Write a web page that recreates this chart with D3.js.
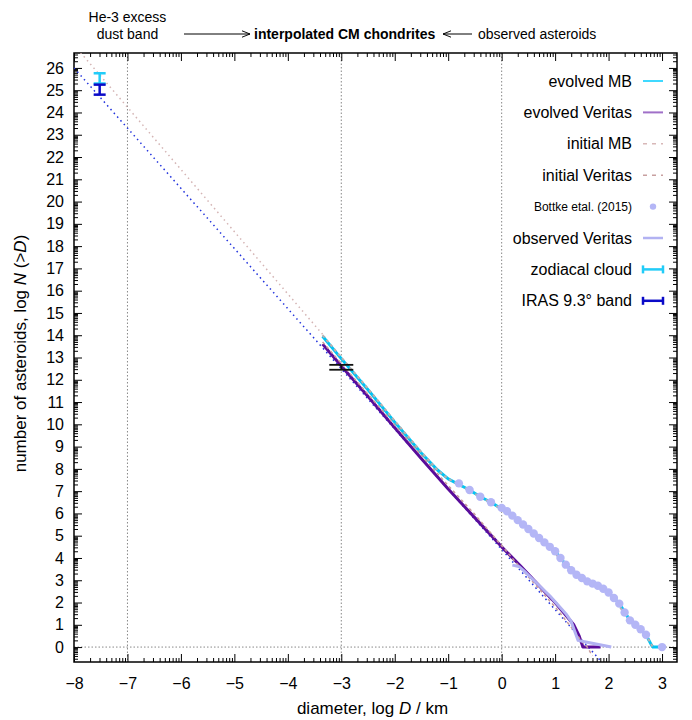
<!DOCTYPE html>
<html>
<head>
<meta charset="utf-8">
<script src="https://cdn.jsdelivr.net/npm/d3@7"></script>
<style>
  body { margin: 0; background: #ffffff; }
  svg { font-family: "Liberation Sans", Arial, sans-serif; }
</style>
</head>
<body>
<div id="chart"></div>
<script>
// ---- data (log D / km, log N(>D)) ----
var evolvedMB = [[-3.35, 13.95], [-3.0, 12.95], [-2.5, 11.55], [-2.0, 10.1], [-1.5, 8.7], [-1.2, 7.95],
                 [-1.0, 7.55], [-0.8, 7.3], [-0.6, 7.05], [-0.4, 6.75], [-0.2, 6.5], [0.0, 6.2], [0.2, 5.9],
                 [0.4, 5.5], [0.6, 5.1], [0.8, 4.7], [1.0, 4.3], [1.2, 3.7], [1.4, 3.25], [1.6, 2.95],
                 [1.8, 2.75], [2.0, 2.45], [2.2, 1.95], [2.4, 1.2], [2.6, 0.8], [2.7, 0.55], [2.8, 0.1],
                 [2.83, 0.0], [3.03, 0.0]];
var evolvedVeritas = [[-3.35, 13.6], [-3.0, 12.62], [-2.5, 11.25], [-2.0, 9.85], [-1.5, 8.45], [-1.0, 7.1],
                      [-0.5, 5.8], [0.0, 4.5], [0.35, 3.65], [0.8, 2.5], [1.0, 2.0], [1.35, 1.0], [1.45, 0.5],
                      [1.52, 0.0], [1.85, 0.0]];
var initialMB = [[-3.35, 14.0], [-3.0, 13.0], [-2.5, 11.6], [-2.0, 10.15], [-1.5, 8.75], [-1.2, 7.95],
                 [-1.0, 7.55], [-0.8, 7.3], [-0.4, 6.75], [0.0, 6.2], [0.4, 5.5], [0.8, 4.7], [1.2, 3.7],
                 [1.6, 2.95], [2.0, 2.45], [2.4, 1.2], [2.7, 0.55], [2.85, -0.1]];
var initialVeritas = [[-3.35, 13.7], [-2.5, 11.35], [-1.5, 8.6], [-1.0, 7.25], [-0.5, 5.95], [0.0, 4.55],
                      [0.5, 3.15], [1.0, 1.8], [1.3, 0.9], [1.5, 0.25], [1.6, 0.0], [1.7, -0.4]];
var bottke = [[-0.8, 7.35], [-0.6, 7.05], [-0.4, 6.75], [-0.2, 6.5], [0.0, 6.25], [0.1, 6.1], [0.2, 5.9],
              [0.3, 5.7], [0.4, 5.5], [0.5, 5.3], [0.6, 5.1], [0.7, 4.9], [0.8, 4.7], [0.9, 4.5], [1.0, 4.3],
              [1.1, 4.0], [1.2, 3.7], [1.3, 3.45], [1.4, 3.25], [1.5, 3.1], [1.6, 2.95], [1.7, 2.85],
              [1.8, 2.75], [1.9, 2.62], [2.0, 2.45], [2.1, 2.2], [2.2, 1.95], [2.3, 1.55], [2.4, 1.2],
              [2.5, 1.0], [2.6, 0.8], [2.7, 0.55], [3.0, 0.0]];
var observedVeritas = [[0.2, 3.68], [0.32, 3.62], [0.45, 3.35], [0.6, 3.0], [0.75, 2.65], [0.9, 2.3],
                       [1.05, 1.9], [1.2, 1.5], [1.3, 1.15], [1.43, 0.3], [1.6, 0.22], [2.05, 0.0]];
// power-law extrapolations towards dust sizes
var extrapMB = [[-8.0, 27.03], [-3.3, 13.9]];
var extrapVeritas = [[-8.0, 26.0], [1.87, -0.67]];
// error bars: [x, ylow, yhigh]
var zodiacalCloud = [-7.52, 25.3, 25.76];
var irasBand = [-7.52, 24.8, 25.25];
var cmChondrites = [-3.0, 12.45, 12.67];

var xTicks = [-8, -7, -6, -5, -4, -3, -2, -1, 0, 1, 2, 3];
var yTicks = [0, 1, 2, 3, 4, 5, 6, 7, 8, 9, 10, 11, 12, 13, 14, 15, 16, 17, 18, 19, 20, 21, 22, 23, 24, 25, 26];
var gridX = [-7, -3, 0];
var gridY = [0];

var legendNames = ["evolved MB", "evolved Veritas", "initial MB", "initial Veritas",
                   "Bottke etal. (2015)", "observed Veritas", "zodiacal cloud", "IRAS 9.3\u00b0 band"];

// ---- layout ----
var width = 692, height = 720;
var plotLeft = 74, plotRight = 677, plotTop = 53, plotBottom = 662;

var x = d3.scaleLinear().domain([-8, 3.28]).range([plotLeft, plotRight]);
var y = d3.scaleLinear().domain([-0.67, 26.67]).range([plotBottom, plotTop]);

var svg = d3.select("#chart").append("svg")
            .attr("width", width)
            .attr("height", height);

svg.append("clipPath").attr("id", "plotclip")
   .append("rect")
   .attr("x", plotLeft).attr("y", plotTop)
   .attr("width", plotRight - plotLeft).attr("height", plotBottom - plotTop);

// log-style minor ticks inside every unit
var minorTicks = function(lo, hi) {
    var out = [];
    for (var k = lo; k < hi; k++)
        for (var m = 2; m <= 9; m++) out.push(k + Math.log10(m));
    return out;
};
var xMinor = minorTicks(-8, 4).filter(function(v) { return v < 3.28; });
var yMinor = minorTicks(-1, 27).filter(function(v) { return v > -0.67 && v < 26.67; });

// grid lines (dotted)
var grid = svg.append("g");
gridX.forEach(function(v) {
    grid.append("line")
        .attr("x1", x(v)).attr("x2", x(v))
        .attr("y1", plotTop).attr("y2", plotBottom)
        .attr("stroke", "#888").attr("stroke-width", 1)
        .attr("stroke-dasharray", "1.5,2");
});
gridY.forEach(function(v) {
    grid.append("line")
        .attr("x1", plotLeft).attr("x2", plotRight)
        .attr("y1", y(v)).attr("y2", y(v))
        .attr("stroke", "#888").attr("stroke-width", 1)
        .attr("stroke-dasharray", "1.5,2");
});

// axes (ticks pointing inwards, mirrored on top / right)
var drawAxis = function(axis, tx, ty, labels) {
    var g = svg.append("g").attr("transform", "translate(" + tx + "," + ty + ")").call(axis);
    g.select(".domain").remove();
    g.selectAll("line").attr("stroke", "#000").attr("stroke-width", 1);
    g.selectAll("text").attr("font-size", 16).attr("fill", "#000")
     .attr("font-family", "Liberation Sans, Arial, sans-serif");
    if (!labels) g.selectAll("text").remove();
    return g;
};
drawAxis(d3.axisBottom(x).tickValues(xTicks).tickSize(-8).tickPadding(16).tickFormat(d3.format("d")), 0, plotBottom, true);
drawAxis(d3.axisBottom(x).tickValues(xMinor).tickSize(-4), 0, plotBottom, false);
drawAxis(d3.axisTop(x).tickValues(xTicks).tickSize(-8), 0, plotTop, false);
drawAxis(d3.axisTop(x).tickValues(xMinor).tickSize(-4), 0, plotTop, false);
drawAxis(d3.axisLeft(y).tickValues(yTicks).tickSize(-8).tickPadding(10).tickFormat(d3.format("d")), plotLeft, 0, true);
drawAxis(d3.axisLeft(y).tickValues(yMinor).tickSize(-4), plotLeft, 0, false);
drawAxis(d3.axisRight(y).tickValues(yTicks).tickSize(-8), plotRight, 0, false);
drawAxis(d3.axisRight(y).tickValues(yMinor).tickSize(-4), plotRight, 0, false);

// frame
svg.append("rect")
   .attr("x", plotLeft).attr("y", plotTop)
   .attr("width", plotRight - plotLeft).attr("height", plotBottom - plotTop)
   .attr("fill", "none").attr("stroke", "#000").attr("stroke-width", 1.5);

// ---- curves ----
var line = d3.line().x(function(d) { return x(d[0]); }).y(function(d) { return y(d[1]); });
var plot = svg.append("g").attr("clip-path", "url(#plotclip)");

var drawCurve = function(data, color, w, dash) {
    var p = plot.append("path").datum(data)
                .attr("d", line)
                .attr("fill", "none")
                .attr("stroke", color)
                .attr("stroke-width", w)
                .attr("stroke-linejoin", "round");
    if (dash) p.attr("stroke-dasharray", dash);
    return p;
};

drawCurve(extrapMB, "#d4b4b4", 1.5, "1.5,3.5");
drawCurve(extrapVeritas, "#2233dd", 1.5, "1.5,3.5");
drawCurve(evolvedMB, "#00c4f4", 3);
drawCurve(evolvedVeritas, "#5a0c9a", 3);
drawCurve(initialMB, "#b8b0b0", 2, "3,3");
drawCurve(initialVeritas, "#c89a9a", 1.5, "3,3");

plot.selectAll("circle.bottke").data(bottke).enter().append("circle")
    .attr("class", "bottke")
    .attr("cx", function(d) { return x(d[0]); })
    .attr("cy", function(d) { return y(d[1]); })
    .attr("r", 4.2)
    .attr("fill", "#b4b6f6");

drawCurve(observedVeritas, "#b2b2f2", 3);

// error bars
var drawErrorBar = function(bar, color, w, capHalf) {
    var g = plot.append("g").attr("stroke", color).attr("stroke-width", w);
    var cx = x(bar[0]);
    g.append("line").attr("x1", cx).attr("x2", cx).attr("y1", y(bar[1])).attr("y2", y(bar[2]));
    g.append("line").attr("x1", cx - capHalf).attr("x2", cx + capHalf).attr("y1", y(bar[1])).attr("y2", y(bar[1]));
    g.append("line").attr("x1", cx - capHalf).attr("x2", cx + capHalf).attr("y1", y(bar[2])).attr("y2", y(bar[2]));
};
drawErrorBar(zodiacalCloud, "#22ccf8", 2.5, 6);
drawErrorBar(irasBand, "#0a0ac8", 2.5, 6);
drawErrorBar(cmChondrites, "#111", 1.8, 12);

// ---- legend ----
var legendTextX = 632, legendX1 = 643, legendX2 = 663, legendY0 = 81, legendDy = 31.4;
var legend = svg.append("g");
legendNames.forEach(function(name, i) {
    var ly = legendY0 + i * legendDy;
    legend.append("text")
          .attr("x", legendTextX).attr("y", ly)
          .attr("dy", "0.35em")
          .attr("text-anchor", "end")
          .attr("font-size", i === 4 ? 12 : 16)
          .text(name);
});
var sample = function(i, color, w, dash) {
    var ly = legendY0 + i * legendDy;
    var l = legend.append("line")
                  .attr("x1", legendX1).attr("x2", legendX2)
                  .attr("y1", ly).attr("y2", ly)
                  .attr("stroke", color).attr("stroke-width", w);
    if (dash) l.attr("stroke-dasharray", dash);
};
sample(0, "#00ccff", 1.5);
sample(1, "#a070c8", 2);
sample(2, "#d8b8b8", 1.5, "4,5");
sample(3, "#c8a0a0", 1.5, "4,5");
legend.append("circle").attr("cx", (legendX1 + legendX2) / 2).attr("cy", legendY0 + 4 * legendDy)
      .attr("r", 3.2).attr("fill", "#b4b6f6");
sample(5, "#b2b2f2", 2.5);
var sampleBar = function(i, color) {
    var ly = legendY0 + i * legendDy;
    var g = legend.append("g").attr("stroke", color).attr("stroke-width", 2.5);
    g.append("line").attr("x1", legendX1).attr("x2", legendX2).attr("y1", ly).attr("y2", ly);
    g.append("line").attr("x1", legendX1).attr("x2", legendX1).attr("y1", ly - 4).attr("y2", ly + 4);
    g.append("line").attr("x1", legendX2).attr("x2", legendX2).attr("y1", ly - 4).attr("y2", ly + 4);
};
sampleBar(6, "#22ccf8");
sampleBar(7, "#0a0ac8");

// ---- axis titles ----
var xTitle = svg.append("text")
                .attr("x", (plotLeft + plotRight) / 2 - 3).attr("y", 714)
                .attr("text-anchor", "middle")
                .attr("font-size", 17);
xTitle.append("tspan").text("diameter, log ");
xTitle.append("tspan").attr("font-style", "italic").text("D");
xTitle.append("tspan").text(" / km");

var yTitle = svg.append("text")
                .attr("transform", "translate(26," + ((plotTop + plotBottom) / 2 - 4) + ") rotate(-90)")
                .attr("text-anchor", "middle")
                .attr("font-size", 17);
yTitle.append("tspan").text("number of asteroids, log ");
yTitle.append("tspan").attr("font-style", "italic").text("N");
yTitle.append("tspan").text(" (>");
yTitle.append("tspan").attr("font-style", "italic").text("D");
yTitle.append("tspan").text(")");

// ---- annotations above the plot ----
var notes = svg.append("g").attr("font-size", 14);
notes.append("text").attr("x", x(-7)).attr("y", 22).attr("text-anchor", "middle").text("He-3 excess");
notes.append("text").attr("x", x(-7)).attr("y", 39).attr("text-anchor", "middle").text("dust band");
notes.append("text").attr("x", 254).attr("y", 39).attr("font-weight", "bold").text("interpolated CM chondrites");
notes.append("text").attr("x", 478).attr("y", 39).text("observed asteroids");

svg.append("defs").append("marker")
   .attr("id", "arrowhead")
   .attr("viewBox", "0 0 10 10")
   .attr("refX", 10).attr("refY", 5)
   .attr("markerWidth", 8).attr("markerHeight", 8)
   .attr("markerUnits", "userSpaceOnUse")
   .attr("orient", "auto")
   .append("path").attr("d", "M0,1 L10,5 L0,9").attr("fill", "none").attr("stroke", "#000").attr("stroke-width", 1.2);

notes.append("line").attr("x1", 184).attr("x2", 250).attr("y1", 34).attr("y2", 34)
     .attr("stroke", "#000").attr("stroke-width", 1).attr("marker-end", "url(#arrowhead)");
notes.append("line").attr("x1", 472).attr("x2", 443).attr("y1", 34).attr("y2", 34)
     .attr("stroke", "#000").attr("stroke-width", 1).attr("marker-end", "url(#arrowhead)");
</script>
</body>
</html>
